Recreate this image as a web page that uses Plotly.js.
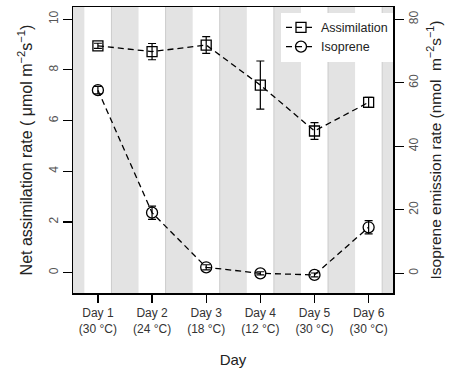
<!DOCTYPE html>
<html>
<head>
<meta charset="utf-8">
<script src="https://cdn.plot.ly/plotly-3.0.1.min.js"></script>
<style>html,body{margin:0;padding:0;background:#fff;}#chart{width:454px;height:372px;}</style>
</head>
<body>
<div id="chart"></div>
<script>
const days = [1, 2, 3, 4, 5, 6];
const dayLabels = ["Day 1<br>(30 °C)", "Day 2<br>(24 °C)", "Day 3<br>(18 °C)", "Day 4<br>(12 °C)", "Day 5<br>(30 °C)", "Day 6<br>(30 °C)"];
const assim = [8.95, 8.72, 8.98, 7.40, 5.59, 6.72];
const assimErr = [0.10, 0.32, 0.33, 0.95, 0.33, 0.20];
const iso = [57.7, 19.1, 1.9, 0.0, -0.5, 14.5];
const isoErr = [1.2, 2.1, 0.8, 0.5, 0.6, 2.1];
const leftTicks = [0, 2, 4, 6, 8, 10];
const rightTicks = [0, 20, 40, 60, 80];

const font = "Liberation Sans, Arial, sans-serif";

// night shading bands between day centres
const shapes = [];
const bandStarts = [0].concat(days);
bandStarts.forEach(d => {
  shapes.push({type: 'rect', xref: 'x', yref: 'paper', x0: d + 0.25, x1: d + 0.75, y0: 0, y1: 1,
    fillcolor: '#e3e3e3', line: {width: 0}, layer: 'below'});
  shapes.push({type: 'line', xref: 'x', yref: 'paper', x0: d + 0.25, x1: d + 0.25, y0: 0, y1: 1,
    line: {color: '#cccccc', width: 1}, layer: 'below'});
});

const traces = [
  {x: days, y: assim, name: 'Assimilation', type: 'scatter', mode: 'lines+markers',
   line: {color: '#000', width: 1.3, dash: '6px,4px'},
   marker: {symbol: 'square-open', size: 10, color: '#000', line: {width: 1.3}},
   error_y: {type: 'data', array: assimErr, visible: true, color: '#000', thickness: 1.2, width: 4},
   yaxis: 'y'},
  {x: days, y: iso, name: 'Isoprene', type: 'scatter', mode: 'lines+markers',
   line: {color: '#000', width: 1.3, dash: '6px,4px'},
   marker: {symbol: 'circle-open', size: 11, color: '#000', line: {width: 1.3}},
   error_y: {type: 'data', array: isoErr, visible: true, color: '#000', thickness: 1.2, width: 4},
   yaxis: 'y2'}
];

const layout = {
  width: 454, height: 372,
  margin: {l: 73, r: 61, t: 7, b: 79},
  paper_bgcolor: '#fff', plot_bgcolor: '#fff',
  font: {family: font, size: 12, color: '#000'},
  showlegend: true,
  legend: {x: 1, xanchor: 'right', y: 0.98, yanchor: 'top', bgcolor: '#fff', borderwidth: 0,
    font: {family: font, size: 12.5, color: '#222'}, itemwidth: 30, tracegroupgap: 2},
  xaxis: {range: [0.54, 6.45], tickmode: 'array', tickvals: days, ticktext: dayLabels,
    showgrid: false, zeroline: false, showline: true, linecolor: '#000', linewidth: 1.5, mirror: true,
    ticks: 'outside', ticklen: 8, tickcolor: '#000', tickwidth: 1.2,
    tickfont: {family: font, size: 12, color: '#333'},
    title: {text: 'Day', font: {family: font, size: 15, color: '#222'}, standoff: 20}},
  yaxis: {range: [-0.8, 10.48], tickmode: 'array', tickvals: leftTicks,
    showgrid: false, zeroline: false, showline: true, linecolor: '#000', linewidth: 1.5,
    ticks: 'outside', ticklen: 9, tickcolor: '#000', tickwidth: 1.2, tickangle: -90,
    tickfont: {family: font, size: 12, color: '#555'},
    title: {text: 'Net assimilation rate ( μmol m<sup>−2</sup>s<sup>−1</sup>)', font: {family: font, size: 16, color: '#222'}, standoff: 10}},
  yaxis2: {range: [-6.2, 83.9], overlaying: 'y', side: 'right', tickmode: 'array', tickvals: rightTicks,
    showgrid: false, zeroline: false, showline: true, linecolor: '#000', linewidth: 1.5,
    ticks: 'outside', ticklen: 9, tickcolor: '#000', tickwidth: 1.2, tickangle: -90,
    tickfont: {family: font, size: 12, color: '#555'},
    title: {text: 'Isoprene emission rate (nmol  m<sup>−2</sup>s<sup>−1</sup>)', font: {family: font, size: 15.5, color: '#222'}, standoff: 10}},
  shapes: shapes
};

Plotly.newPlot('chart', traces, layout, {displayModeBar: false, staticPlot: true});
</script>
</body>
</html>
